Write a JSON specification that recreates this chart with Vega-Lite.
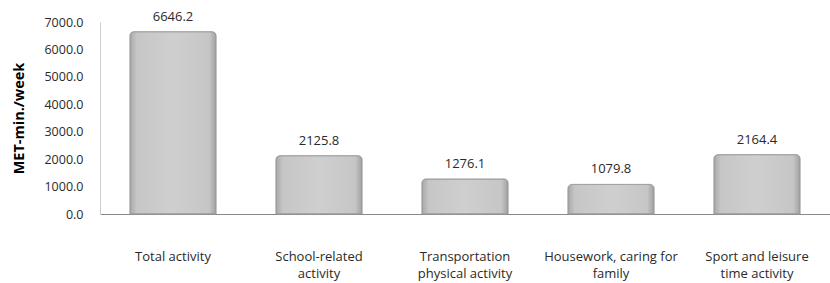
{
  "$schema": "https://vega.github.io/schema/vega-lite/v6.json",
  "width": 730,
  "height": 192,
  "autosize": "none",
  "padding": {"left": 100, "top": 22, "right": 0, "bottom": 69},
  "background": "white",
  "config": {"view": {"stroke": null}, "font": "Open Sans"},
  "data": {"values": [
    {"activity": "Total activity", "value": 6646.2},
    {"activity": "School-related activity", "value": 2125.8},
    {"activity": "Transportation physical activity", "value": 1276.1},
    {"activity": "Housework, caring for family", "value": 1079.8},
    {"activity": "Sport and leisure time activity", "value": 2164.4}
  ]},
  "encoding": {
    "x": {"field": "activity", "type": "nominal", "sort": null,
      "scale": {"paddingInner": 0.41, "paddingOuter": 0.205},
      "axis": {"title": null, "labelAngle": 0, "ticks": false, "domainColor": "#888888",
        "labelPadding": 36, "labelFontSize": 13, "labelColor": "#2a2a2a", "labelLineHeight": 17,
        "labelExpr": "datum.label == 'School-related activity' ? ['School-related', 'activity'] : datum.label == 'Transportation physical activity' ? ['Transportation', 'physical activity'] : datum.label == 'Housework, caring for family' ? ['Housework, caring for', 'family'] : datum.label == 'Sport and leisure time activity' ? ['Sport and leisure', 'time activity'] : datum.label"}},
    "y": {"field": "value", "type": "quantitative",
      "scale": {"domain": [0, 7000], "nice": false},
      "axis": {"title": "MET-min./week", "titleFontWeight": "bold", "titleFontSize": 14.5, "titleColor": "#000000", "titlePadding": 17,
        "values": [0, 1000, 2000, 3000, 4000, 5000, 6000, 7000], "format": ".1f",
        "labelFontSize": 12.5, "labelColor": "#2a2a2a", "labelPadding": 17, "ticks": false,
        "grid": false, "domainColor": "#cccccc"}}
  },
  "layer": [
    {"mark": {"type": "bar", "cornerRadiusTopLeft": 4, "cornerRadiusTopRight": 4, "stroke": "#9a9a9a", "strokeWidth": 1,
      "color": {"gradient": "linear", "x1": 0, "x2": 1, "y1": 0, "y2": 0,
        "stops": [{"offset": 0, "color": "#a8a8a8"}, {"offset": 0.08, "color": "#c6c6c6"}, {"offset": 0.5, "color": "#cfcfcf"}, {"offset": 0.92, "color": "#c6c6c6"}, {"offset": 1, "color": "#a0a0a0"}]}}},
    {"mark": {"type": "text", "baseline": "bottom", "dy": -8, "fontSize": 13, "color": "#2a2a2a"},
      "encoding": {"text": {"field": "value", "type": "quantitative", "format": ".1f"}}}
  ]
}
